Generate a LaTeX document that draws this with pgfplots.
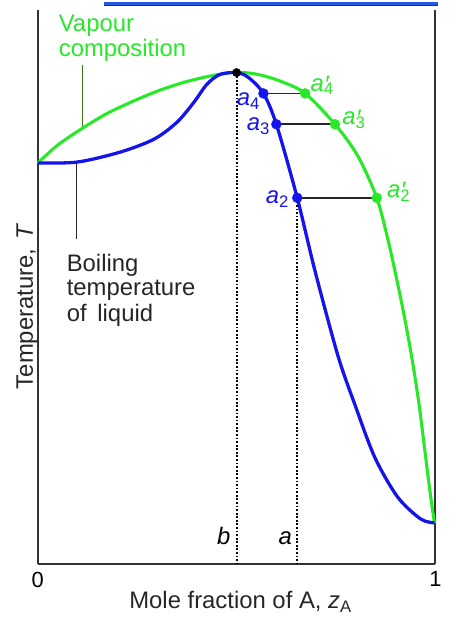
\documentclass[border=0pt]{standalone}
\usepackage{fontspec}
\setmainfont{Liberation Sans}
\usepackage{pgfplots}
\pgfplotsset{compat=1.18}
\definecolor{vgreen}{RGB}{40,232,40}
\definecolor{lblue}{RGB}{20,20,235}
\definecolor{dgreen}{RGB}{60,120,20}
\newcommand{\pr}[1]{\textit{a}\makebox[0pt][l]{\hspace{0.5pt}\raisebox{-0.05em}{\textit{′}}}\textsubscript{#1}}
\begin{document}
\fontsize{24}{28}\selectfont
\begin{tikzpicture}
\begin{axis}[at={(0,0)}, anchor=south west, scale only axis,
  width=400pt, height=557pt, xmin=0, xmax=1, ymin=0, ymax=557,
  axis x line*=bottom, axis y line*=left,
  axis line style={-, line width=2pt, black!80},
  xtick={0,1}, xticklabels={0,1}, ytick=\empty, major tick length=0pt,
  tick label style={font=\fontsize{22}{24}\selectfont},
  /pgf/number format/assume math mode=true,
  clip=false]
% right border
\addplot[black!80, line width=2pt] coordinates {(1,0) (1,557)};
% dotted verticals
\addplot[black, line width=2pt, dash pattern=on 1.8pt off 1.8pt] coordinates {(0.5,494) (0.5,0)};
\addplot[black, line width=2pt, dash pattern=on 1.8pt off 1.8pt] coordinates {(0.6525,368) (0.6525,0)};
% tie lines
\addplot[black!85, line width=1.8pt] coordinates {(0.5675,473) (0.6725,473)};
\addplot[black!85, line width=1.8pt] coordinates {(0.6,442) (0.7475,442)};
\addplot[black!85, line width=1.8pt] coordinates {(0.6525,368) (0.8525,368)};
% pointers
\addplot[dgreen, line width=1.6pt] coordinates {(0.1125,502) (0.1125,439)};
\addplot[black!85, line width=1.8pt] coordinates {(0.0975,403) (0.0975,327)};
% vapour curve
\addplot[vgreen, line width=3.1pt, smooth] coordinates {
(0,403) (0.05,421) (0.1125,438) (0.175,453) (0.25,467) (0.3125,477)
(0.375,485) (0.44,491) (0.5,494.3)
(0.555,492) (0.6125,485) (0.6725,473) (0.7475,442) (0.805,410) (0.8525,368)
(0.88,327) (0.905,282) (0.9275,237) (0.945,197) (0.96,157) (0.9725,117)
(0.985,77) (0.9975,41)};
% liquid curve
\addplot[lblue, line width=3.3pt, smooth] coordinates {
(0,403) (0.1,404) (0.2075,414) (0.2925,427) (0.35,444) (0.3925,464)
(0.425,482) (0.4575,492) (0.5,494) (0.53,489) (0.5675,473) (0.6,442)
(0.6525,368) (0.6975,294) (0.755,209) (0.7975,160) (0.8475,107)
(0.905,67) (0.9625,45) (0.9975,41)};
% dots
\addplot[only marks, mark=*, mark size=5pt, lblue] coordinates {(0.5675,473) (0.6,442) (0.6525,368)};
\addplot[only marks, mark=*, mark size=5pt, vgreen] coordinates {(0.6725,473) (0.7475,442) (0.8525,368)};
\addplot[only marks, mark=*, mark size=4.2pt, black] coordinates {(0.5,494)};
% labels
\node[lblue] at (axis cs:0.53,465) {\textit{a}\textsubscript{4}};
\node[lblue] at (axis cs:0.555,440) {\textit{a}\textsubscript{3}};
\node[lblue] at (axis cs:0.6025,367) {\textit{a}\textsubscript{2}};
\node[vgreen] at (axis cs:0.715,481) {\pr{4}};
\node[vgreen] at (axis cs:0.795,447) {\pr{3}};
\node[vgreen] at (axis cs:0.9075,374) {\pr{2}};
\node at (axis cs:0.4675,28) {\textit{b}};
\node at (axis cs:0.6225,26) {\textit{a}};
\node[vgreen, anchor=base west, inner sep=0pt] at (axis cs:0.0525,535) {Vapour};
\node[vgreen, anchor=base west, inner sep=0pt] at (axis cs:0.0525,510) {composition};
\node[black!85, anchor=base west, inner sep=0pt] at (axis cs:0.0725,294) {Boiling};
\node[black!85, anchor=base west, inner sep=0pt] at (axis cs:0.0725,270) {temperature};
\node[black!85, anchor=base west, inner sep=0pt] at (axis cs:0.0725,244) {of\hspace{0.45em}liquid};
\node[black!85, anchor=base] at (axis cs:0.51,-45) {Mole fraction of A, \textit{z}\textsubscript{A}};
\node[black!85, rotate=90, anchor=base] at (axis cs:-0.0125,259) {Temperature,\hspace{0.4em}\textit{T}};
\end{axis}
\fill[color={rgb,255:red,40;green,90;blue,225}] (67pt,562pt) rectangle (403pt,564.5pt);
\fill[black!80] (67pt,560.5pt) rectangle (403pt,562pt);
\path (-38pt,-53pt) rectangle (403pt,567pt);
\end{tikzpicture}
\end{document}
